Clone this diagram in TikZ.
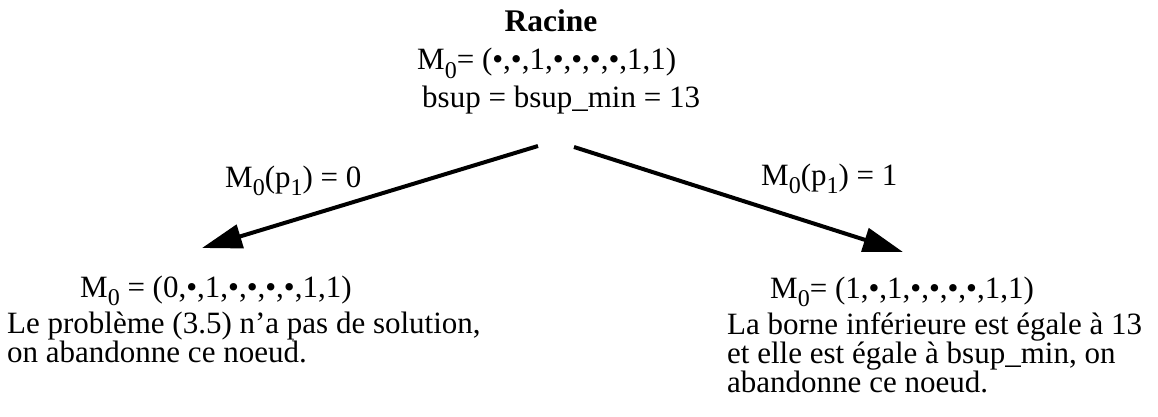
\documentclass[tikz,border=0pt]{standalone}
\usepackage{fontspec}
\setmainfont{Liberation Serif}
\usetikzlibrary{arrows.meta}
\newcommand{\sbs}[1]{\raisebox{-0.28em}{\fontsize{24}{24}\selectfont #1}}
\tikzset{
  txt/.style={anchor=base west, inner sep=0pt, text height=21pt, text depth=6pt,
              font=\fontsize{31}{30}\selectfont},
  branch/.style={line width=4pt, -{Triangle[length=40pt,width=24pt]}}
}
\begin{document}
\begin{tikzpicture}[x=1pt,y=-1pt]
\useasboundingbox (0,0) rectangle (1158,417);
% root
\node[txt, font=\fontsize{31.5}{30}\selectfont\bfseries, anchor=base] (racine) at (551,32) {Racine};
\node[txt] (rootm) at (417,70) {M\sbs{0}= (•,•,1,•,•,•,•,1,1)};
\node[txt] (rootb) at (422,108) {bsup = bsup\_min = 13};
% arrow ends
\coordinate (s1) at (538,146);
\coordinate (t1) at (202,248);
\coordinate (s2) at (574,147);
\coordinate (t2) at (903,252);
\draw[branch] (s1) -- (t1);
\draw[branch] (s2) -- (t2);
% labels
\node[txt] (lab0) at (225,187) {M\sbs{0}(p\sbs{1}) = 0};
\node[txt] (lab1) at (761,185) {M\sbs{0}(p\sbs{1}) = 1};
% left child
\node[txt] (lm) at (80,297) {M\sbs{0} = (0,•,1,•,•,•,•,1,1)};
\node[txt] (l1) at (7,333) {Le problème (3.5) n'a pas de solution,};
\node[txt] (l2) at (7,362) {on abandonne ce noeud.};
% right child
\node[txt] (rm) at (770,298) {M\sbs{0}= (1,•,1,•,•,•,•,1,1)};
\node[txt] (r1) at (727,334) {La borne inférieure est égale à 13};
\node[txt] (r2) at (727,363) {et elle est égale à bsup\_min, on};
\node[txt] (r3) at (727,392) {abandonne ce noeud.};
\end{tikzpicture}
\end{document}
